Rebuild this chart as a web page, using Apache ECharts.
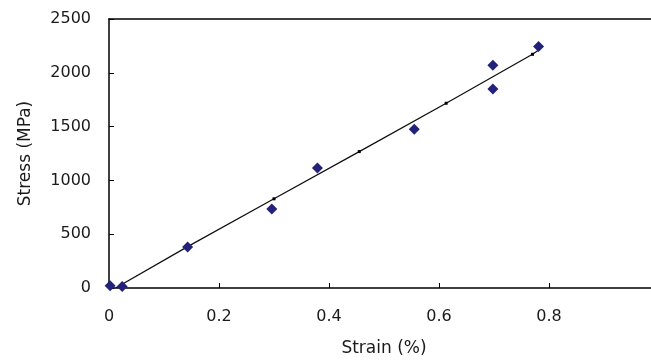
<!DOCTYPE html>
<html>
<head>
<meta charset="utf-8">
<script src="https://cdn.jsdelivr.net/npm/echarts@6/dist/echarts.min.js"></script>
<style>
  html, body { margin: 0; padding: 0; background: #fff; }
  #chart { width: 651px; height: 362px; }
</style>
</head>
<body>
<div id="chart"></div>
<script>
// measured points
const strain = [0.002, 0.024, 0.143, 0.296, 0.379, 0.555, 0.698, 0.698, 0.781];
const stress = [20, 15, 380, 735, 1115, 1476, 2071, 1849, 2244];

// trend line vertices
const lineStrain = [0.012, 0.143, 0.300, 0.455, 0.613, 0.770, 0.782];
const lineStress = [0, 385, 829, 1268, 1717, 2172, 2215];

const yTicks = [0, 500, 1000, 1500, 2000, 2500];

const chart = echarts.init(document.getElementById('chart'));

const labelFont = { color: '#1a1a1a', fontSize: 16, fontFamily: 'DejaVu Sans, sans-serif' };
const nameFont = { color: '#1a1a1a', fontSize: 17, fontFamily: 'DejaVu Sans, sans-serif' };

chart.setOption({
  animation: false,
  grid: { left: 109, top: 19, width: 550, bottom: 74, outerBoundsMode: 'none' },
  xAxis: [
    {
      type: 'value',
      min: 0, max: 1, interval: 0.2,
      name: 'Strain (%)',
      nameLocation: 'middle',
      nameGap: 52,
      nameTextStyle: nameFont,
      axisLine: { lineStyle: { color: '#000', width: 1.5 } },
      axisTick: { inside: true, length: 5, lineStyle: { color: '#000' } },
      axisLabel: Object.assign({ margin: 21, formatter: v => (v >= 1 ? '' : String(v)) }, labelFont),
      splitLine: { show: false }
    },
    {
      // top frame line
      type: 'value', position: 'top', min: 0, max: 1,
      axisLine: { show: true, lineStyle: { color: '#000', width: 1.5 } },
      axisTick: { show: false }, axisLabel: { show: false }, splitLine: { show: false }
    }
  ],
  yAxis: {
    type: 'value',
    min: yTicks[0], max: yTicks[yTicks.length - 1], interval: 500,
    name: 'Stress (MPa)',
    nameLocation: 'middle',
    nameGap: 75,
    nameTextStyle: nameFont,
    axisLine: { show: true, lineStyle: { color: '#000', width: 1.5 } },
    axisTick: { show: true, inside: true, length: 5, lineStyle: { color: '#000' } },
    axisLabel: Object.assign({ margin: 18, formatter: v => String(v) }, labelFont),
    splitLine: { show: false }
  },
  series: [
    {
      type: 'line',
      data: lineStrain.map((x, i) => ({
        value: [x, lineStress[i]],
        symbolSize: (i === 0 || i === lineStrain.length - 1) ? 0 : 3
      })),
      symbol: 'rect',
      showAllSymbol: true,
      itemStyle: { color: '#000' },
      lineStyle: { color: '#111', width: 1.3 },
      z: 2
    },
    {
      type: 'scatter',
      data: strain.map((x, i) => [x, stress[i]]),
      symbol: 'diamond',
      symbolSize: 11,
      itemStyle: { color: '#22227a', opacity: 1 },
      z: 3
    }
  ]
});
</script>
</body>
</html>
